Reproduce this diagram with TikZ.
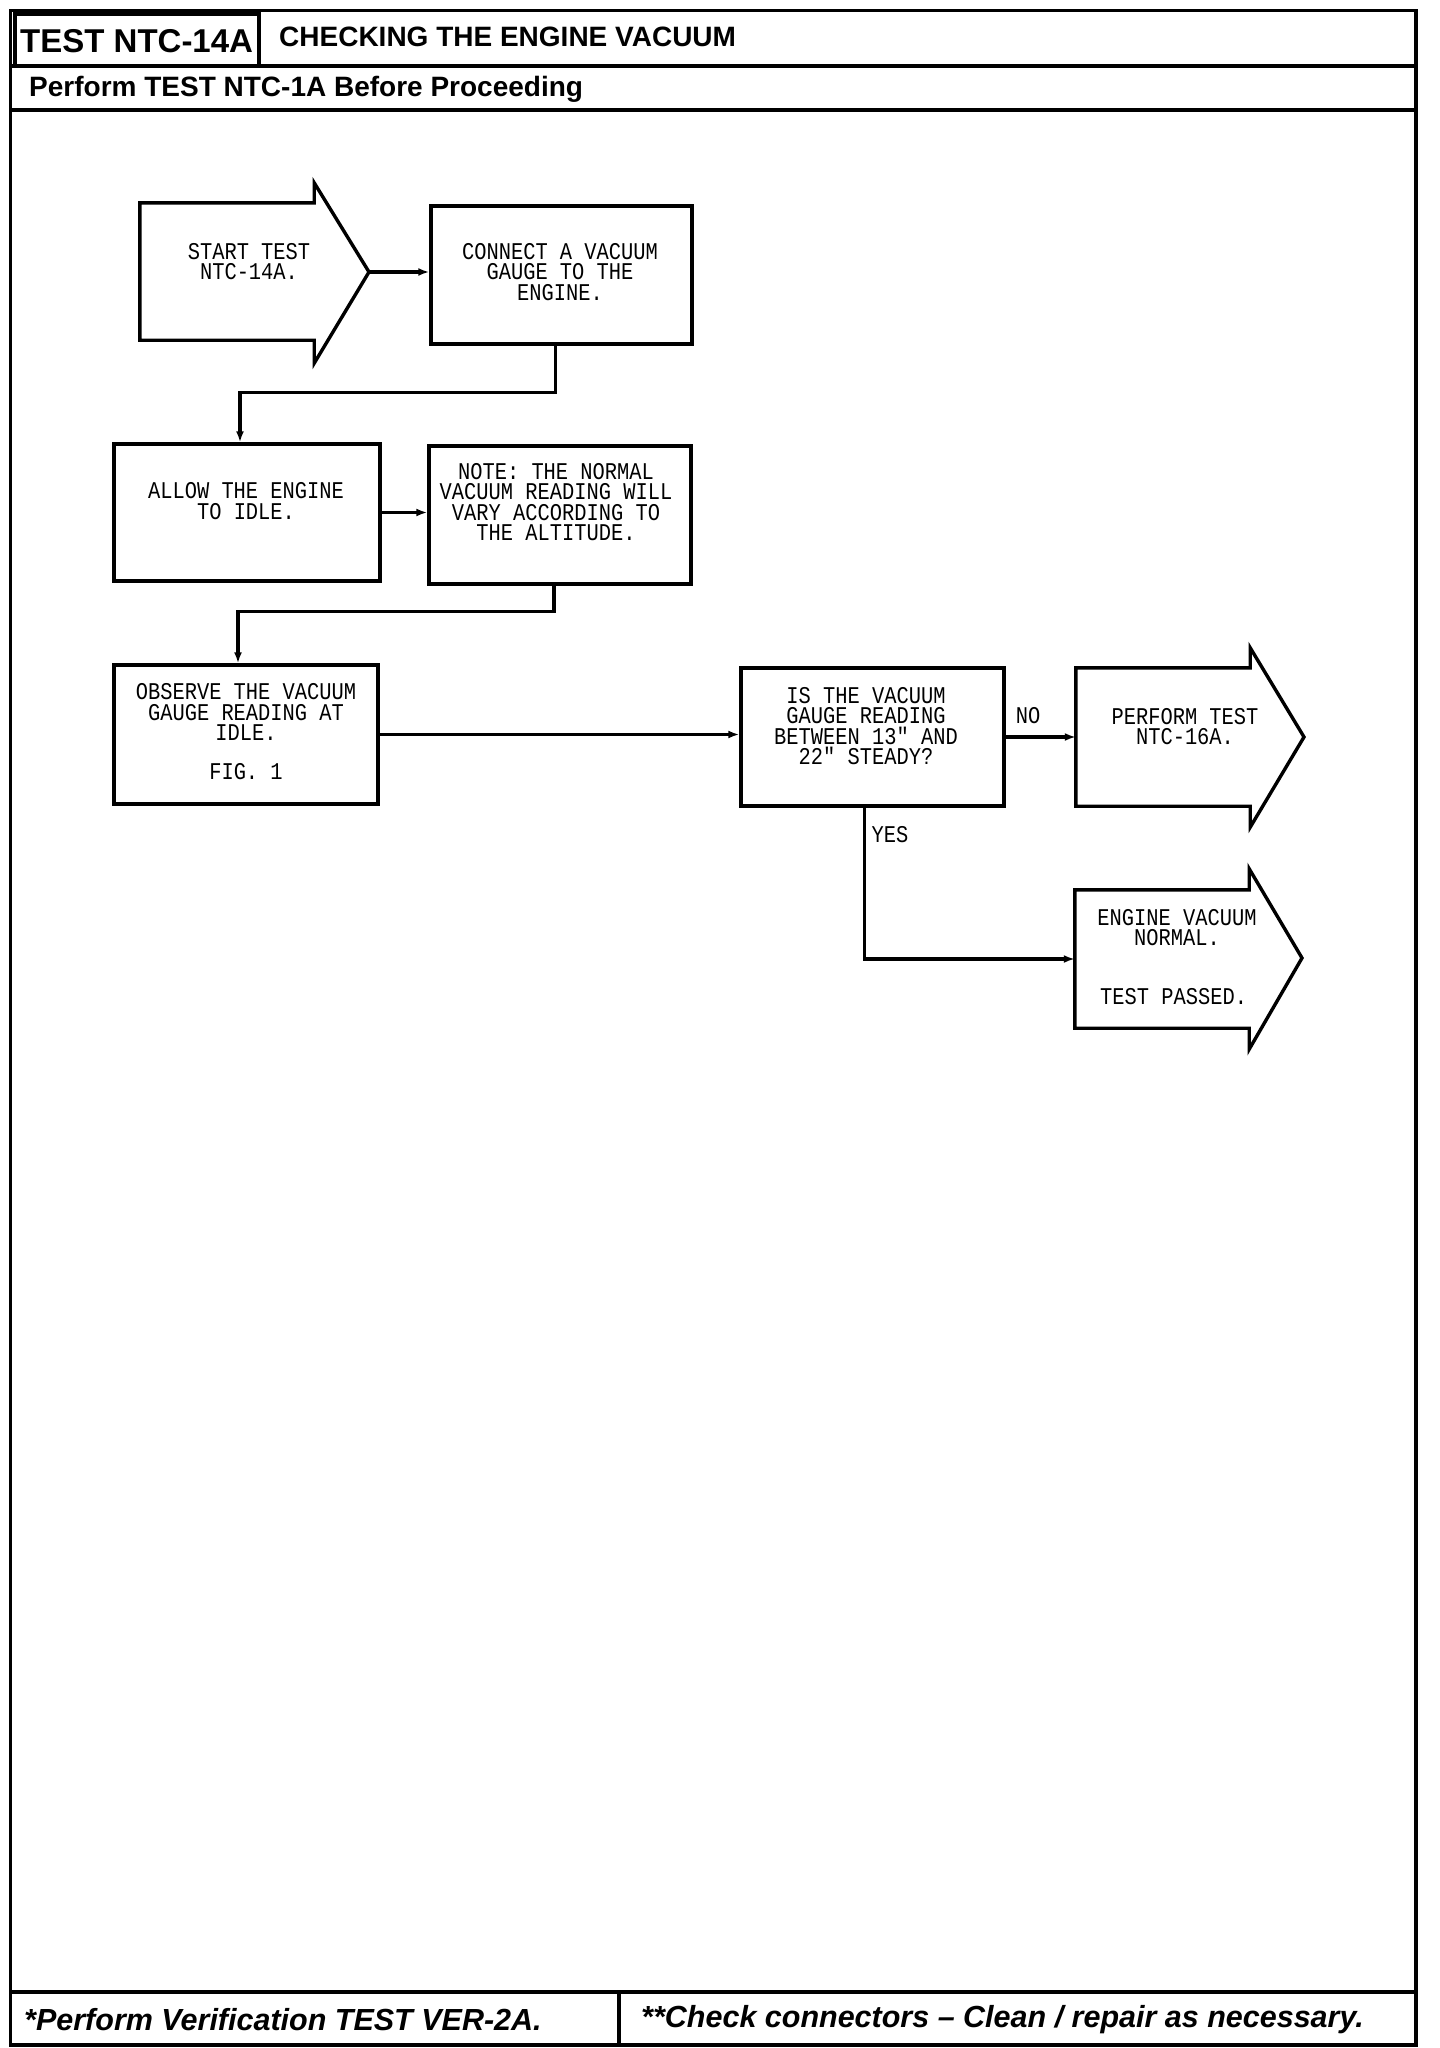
\documentclass[tikz,border=0pt]{standalone}
\usepackage{fontspec}
\setmainfont{Liberation Sans}
\newfontfamily\plotfont{Liberation Mono}[FakeStretch=0.85]
\usetikzlibrary{arrows.meta,calc}
\begin{document}
\begin{tikzpicture}[x=1pt,y=-1pt,
  rule/.style={line width=3.6pt},
  box/.style={draw,line width=3.4pt,inner sep=0pt},
  body/.style={inner sep=0pt},
  outline/.style={line width=3.4pt,line join=miter},
  arr/.style={line width=3.2pt,-{Latex[length=11pt,width=8pt]}},
  txt/.style={font=\plotfont\fontsize{24}{20.5}\selectfont,align=center,inner sep=0pt},
  lbl/.style={font=\plotfont\fontsize{24}{20.5}\selectfont,inner sep=0pt},
  head/.style={font=\bfseries\fontsize{28}{30}\selectfont,inner sep=0pt,anchor=west},
  foot/.style={font=\bfseries\itshape\fontsize{30.5}{32}\selectfont,inner sep=0pt,anchor=west}]
\useasboundingbox[fill=white] (0,0) rectangle (1440,2048);
% frame
\draw[rule] (10.5,10.5) rectangle (1416,2045);
\draw[rule] (15,14) rectangle (259,66);
\draw[rule] (10.5,66) -- (1416,66);
\draw[rule] (10.5,110) -- (1416,110);
\draw[rule] (10.5,1992) -- (1416,1992);
\draw[rule] (619,1992) -- (619,2045);
\node[head,font=\bfseries\fontsize{33}{34}\selectfont] (ttl) at (20,41) {TEST NTC-14A};
\node[head] (tname) at (279,37) {CHECKING THE ENGINE VACUUM};
\node[head] (sub) at (29,89) {Perform TEST NTC-1A Before Proceeding};
\node[foot] (f1) at (24,2020) {*Perform Verification TEST VER-2A.};
\node[foot] (f2) at (641,2020) {**Check connectors -- Clean / repair as necessary.};
% start arrow
\node[body,minimum width=174,minimum height=137] (start) at (227,271.5) {};
\coordinate (stip) at (369,272);
\draw[outline] (start.north west) -- (start.north east) -- ++(0,-20) -- (stip) -- ($(start.south east)+(0,23)$) -- (start.south east) -- (start.south west) -- cycle;
\node[txt] (startt) at (249,261.5) {START TEST\\NTC-14A.};
% boxes
\node[box,minimum width=261,minimum height=138] (cbox) at (561.5,275) {};
\node[txt] (cboxt) at (560,272) {CONNECT A VACUUM\\GAUGE TO THE\\ENGINE.};
\node[box,minimum width=266,minimum height=137] (allow) at (247,512.5) {};
\node[txt] (allowt) at (246,501) {ALLOW THE ENGINE\\TO IDLE.};
\node[box,minimum width=262,minimum height=138] (note) at (560,515) {};
\node[txt] (notet) at (556,502) {NOTE: THE NORMAL\\VACUUM READING WILL\\VARY ACCORDING TO\\THE ALTITUDE.};
\node[box,minimum width=264,minimum height=139] (obs) at (246,734.5) {};
\node[txt] (obst) at (246,712) {OBSERVE THE VACUUM\\GAUGE READING AT\\IDLE.};
\node[txt] (fig) at (246,772) {FIG. 1};
\node[box,minimum width=263,minimum height=138] (q) at (872.5,737) {};
\node[txt] (qt) at (866,726) {IS THE VACUUM\\GAUGE READING\\BETWEEN 13" AND\\22" STEADY?};
% perform arrow
\node[body,minimum width=174,minimum height=138] (perf) at (1163,737) {};
\coordinate (ptip) at (1304,737);
\draw[outline] (perf.north west) -- (perf.north east) -- ++(0,-20) -- (ptip) -- ($(perf.south east)+(0,21)$) -- (perf.south east) -- (perf.south west) -- cycle;
\node[txt] (perft) at (1185,726.5) {PERFORM TEST\\NTC-16A.};
% engine arrow
\node[body,minimum width=174,minimum height=138] (eng) at (1162,959) {};
\coordinate (etip) at (1302,958);
\draw[outline] (eng.north west) -- (eng.north east) -- ++(0,-21) -- (etip) -- ($(eng.south east)+(0,21)$) -- (eng.south east) -- (eng.south west) -- cycle;
\node[txt] (engt) at (1177,927.5) {ENGINE VACUUM\\NORMAL.};
\node[lbl,anchor=west] (pass) at (1100,997) {TEST PASSED.};
% connectors
\draw[arr] (stip) -- (stip -| cbox.west);
\draw[arr] ([xshift=-6pt]cbox.south) -- ++(0,47) -| ([xshift=-7pt]allow.north);
\draw[arr] (allow.east) -- (allow.east -| note.west);
\draw[arr] ([xshift=-6pt]note.south) -- ++(0,26) -| ([xshift=-8pt]obs.north);
\draw[arr] (obs.east) -- (obs.east -| q.west);
\draw[arr] (q.east) -- (q.east -| perf.west);
\draw[arr] ([xshift=-8pt]q.south) |- (eng.west);
\node[lbl] (no) at (1028,716) {NO};
\node[lbl] (yes) at (890,835) {YES};
\end{tikzpicture}
\end{document}
